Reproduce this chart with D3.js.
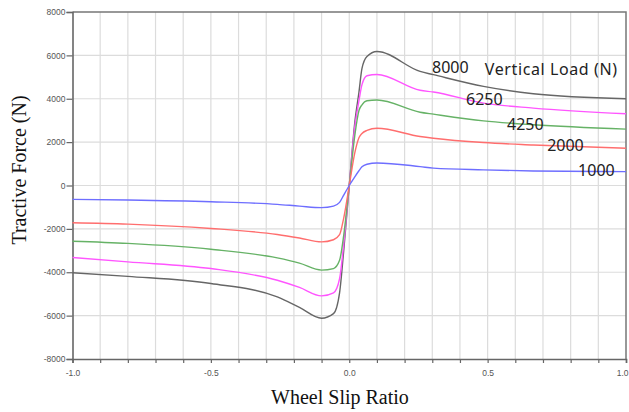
<!DOCTYPE html>
<html>
<head>
<meta charset="utf-8">
<script src="https://cdn.jsdelivr.net/npm/d3@7"></script>
<style>
  html, body { margin: 0; padding: 0; background: #fff; }
  svg { display: block; }
  .tick-label { font-family: "Liberation Sans", Arial, sans-serif; font-size: 8.5px; fill: #555; }
  .axis-title { font-family: "Liberation Serif", "Times New Roman", serif; fill: #111; }
  .note { font-family: "Noto Sans", "Liberation Sans", sans-serif; font-size: 16px; fill: #222; }
</style>
</head>
<body>
<svg id="chart" width="629" height="412"></svg>
<script>
// slip ratio sample points
const slip = [-1, -0.8, -0.5, -0.26, -0.18, -0.10, -0.057, -0.035, -0.02, 0,
  0.02, 0.035, 0.046, 0.064, 0.10, 0.256, 0.304, 0.485, 0.665, 1.0];

// tractive force (N) per vertical load
const load8000 = [-4020, -4190, -4520, -5140, -5620, -6120, -5910, -4950, -3000, 0,
  2900, 4300, 5400, 5950, 6180, 5260, 5110, 4570, 4230, 4000];
const load6250 = [-3320, -3520, -3830, -4370, -4700, -5090, -4950, -4300, -2700, 0,
  2700, 3900, 4650, 5060, 5120, 4390, 4310, 3800, 3570, 3310];
const load4250 = [-2570, -2670, -2940, -3340, -3580, -3900, -3830, -3450, -2300, 0,
  2300, 3450, 3720, 3910, 3940, 3380, 3290, 2980, 2800, 2600];
const load2000 = [-1720, -1780, -1980, -2260, -2420, -2600, -2500, -2270, -1500, 0,
  1500, 2200, 2400, 2540, 2640, 2260, 2180, 1980, 1870, 1720];
const load1000 = [-640, -670, -750, -870, -950, -1020, -950, -780, -440, 0,
  400, 680, 860, 980, 1040, 870, 800, 720, 670, 640];

const seriesNames = ["8000", "6250", "4250", "2000", "1000"];
const seriesValues = [load8000, load6250, load4250, load2000, load1000];
const seriesColors = ["#666666", "#ff55ff", "#66b266", "#ff6e6e", "#6e6eff"];

const yTicks = [-8000, -6000, -4000, -2000, 0, 2000, 4000, 6000, 8000];
const xGrid = d3.range(-10, 11).map((i) => i / 10);
const xLabeled = [-1, -0.5, 0, 0.5, 1];

const svg = d3.select("#chart");
const mLeft = 72.5, mRight = 626, mTop = 12, mBottom = 359;

const x = d3.scaleLinear().domain([-1, 1]).range([mLeft, mRight]);
const y = d3.scaleLinear().domain([-8000, 8000]).range([mBottom, mTop]);

// plain hyphen minus like the original
const hy = (s) => s.replace("\u2212", "-");

// grid
svg.append("g").selectAll("line").data(xGrid.slice(1, -1)).join("line")
  .attr("x1", (d) => x(d)).attr("x2", (d) => x(d))
  .attr("y1", mTop).attr("y2", mBottom)
  .attr("stroke", "#dcdcdc").attr("stroke-width", 1.2);
svg.append("g").selectAll("line").data(yTicks.slice(1, -1)).join("line")
  .attr("x1", mLeft).attr("x2", mRight)
  .attr("y1", (d) => y(d)).attr("y2", (d) => y(d))
  .attr("stroke", "#dcdcdc").attr("stroke-width", 1.2);

// frame top/right
svg.append("path")
  .attr("d", `M${mLeft},${mTop}H${mRight}V${mBottom}`)
  .attr("fill", "none").attr("stroke", "#777").attr("stroke-width", 1.5);

// x axis
const xAxis = d3.axisBottom(x).tickValues(xGrid).tickSize(4)
  .tickFormat((d) => xLabeled.some((v) => Math.abs(v - d) < 1e-9) ? hy(d3.format(".1f")(d)) : "");
const gx = svg.append("g").attr("transform", `translate(0,${mBottom})`).call(xAxis);
gx.select(".domain").attr("stroke", "#666").attr("stroke-width", 1.6);
gx.selectAll(".tick line").attr("stroke", "#666").attr("stroke-width", 1.2);
gx.selectAll("text").attr("class", "tick-label").attr("dy", "1.15em");
// last label sits against the right edge
gx.selectAll(".tick").filter((d) => d === 1).select("text")
  .attr("text-anchor", "end").attr("x", 2);

// y axis
const yAxis = d3.axisLeft(y).tickValues(yTicks).tickSize(6).tickFormat((d) => hy(d3.format("d")(d)));
const gy = svg.append("g").attr("transform", `translate(${mLeft},0)`).call(yAxis);
gy.select(".domain").attr("stroke", "#666").attr("stroke-width", 1.6);
gy.selectAll(".tick line").attr("stroke", "#666").attr("stroke-width", 1.2);
gy.selectAll("text").attr("class", "tick-label").attr("x", -7);

// curves
const line = d3.line()
  .x((d) => x(d[0])).y((d) => y(d[1]))
  .curve(d3.curveMonotoneX);
svg.append("g").selectAll("path").data(seriesValues).join("path")
  .attr("d", (vals) => line(slip.map((s, i) => [s, vals[i]])))
  .attr("fill", "none")
  .attr("stroke", (_, i) => seriesColors[i])
  .attr("stroke-width", 1.4);

// in-plot labels
const noteX = [0.299, 0.422, 0.57, 0.715, 0.827];
const noteY = [5210, 3725, 2570, 1600, 450];
svg.append("g").selectAll("text").data(seriesNames).join("text")
  .attr("class", "note")
  .attr("x", (_, i) => x(noteX[i])).attr("y", (_, i) => y(noteY[i]))
  .text((d) => d);
svg.append("text").attr("class", "note")
  .attr("x", x(0.49)).attr("y", y(5110))
  .attr("letter-spacing", 0.6)
  .text("Vertical Load (N)");

// axis titles
svg.append("text").attr("class", "axis-title")
  .attr("font-size", 20)
  .attr("text-anchor", "middle")
  .attr("transform", `translate(26,170) rotate(-90)`)
  .text("Tractive Force (N)");
svg.append("text").attr("class", "axis-title")
  .attr("font-size", 20)
  .attr("text-anchor", "middle")
  .attr("x", 340).attr("y", 404)
  .text("Wheel Slip Ratio");
</script>
</body>
</html>
